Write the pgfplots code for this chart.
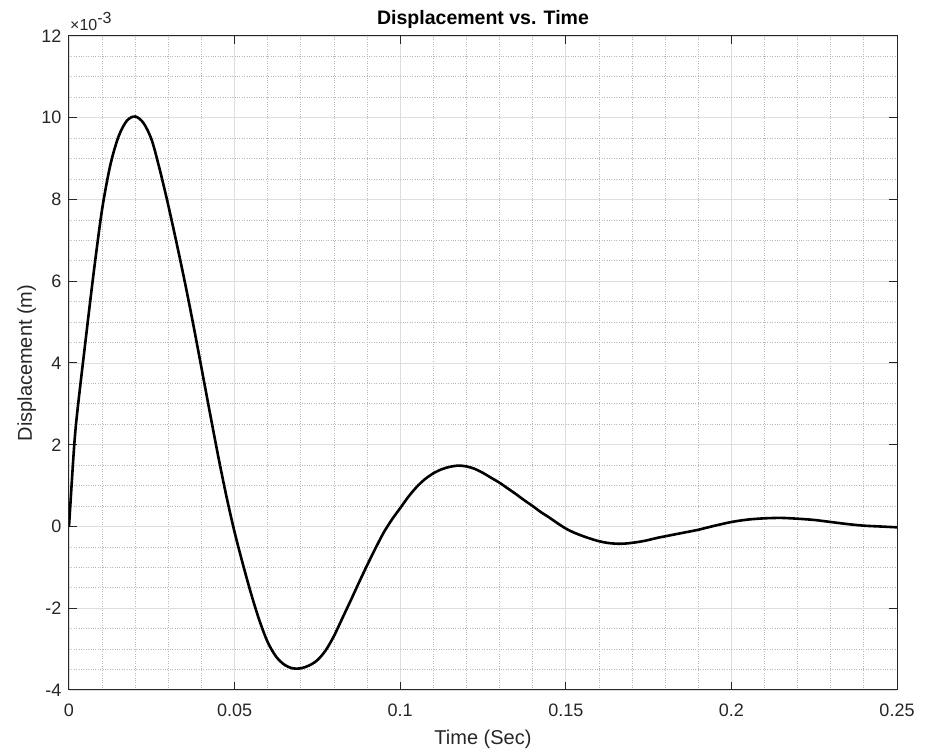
\documentclass[border=0pt]{standalone}
\usepackage{fontspec}
\setmainfont{Liberation Sans}
\usepackage{pgfplots}
\pgfplotsset{compat=1.18}
\definecolor{mtext}{gray}{0.15}
\definecolor{mgrid}{gray}{0.87}
\definecolor{mminor}{gray}{0.72}

\begin{document}
\begin{tikzpicture}[x=1pt,y=1pt]
\useasboundingbox (-69,-62) rectangle (865,690);
\begin{axis}[
    name=ax,
    scale only axis,
    width=828pt, height=654pt,
    xmin=0, xmax=0.25,
    ymin=-4, ymax=12,
    xtick={0,0.05,0.1,0.15,0.2,0.25},
    xticklabels={0,0.05,0.1,0.15,0.2,0.25},
    ytick={-4,-2,0,2,4,6,8,10,12},
    yticklabels={-4,-2,0,2,4,6,8,10,12},
    minor x tick num=4,
    minor y tick num=3,
    grid=both,
    major grid style={mgrid, line width=0.9pt},
    minor grid style={mminor, dotted, line width=0.8pt},
    tick align=inside,
    major tick length=8pt,
    minor tick length=0pt,
    axis line style={mtext, line width=1pt},
    tick style={mtext, line width=1pt},
    ticklabel style={font=\fontsize{18}{21}\selectfont, text=mtext},
    xticklabel style={anchor=base, yshift=-27pt},
    yticklabel style={anchor=east, xshift=-4pt},
]
% displacement in units of 1e-3 m
\addplot[black, line width=2.6pt, smooth] coordinates {
    (0,0) (0.0015,1.9) (0.0025,2.8) (0.005,4.55) (0.0075,6.24)
    (0.010,7.76) (0.0125,8.85) (0.015,9.55) (0.0175,9.93) (0.020,10.03)
    (0.0225,9.87) (0.025,9.45) (0.0275,8.70) (0.030,7.85) (0.0325,6.93)
    (0.035,5.97) (0.0375,4.95) (0.040,3.88) (0.0425,2.80) (0.045,1.74)
    (0.0475,0.75) (0.050,-0.14) (0.0525,-0.92) (0.055,-1.65) (0.0575,-2.3)
    (0.060,-2.83) (0.0625,-3.18) (0.065,-3.38) (0.0675,-3.47) (0.070,-3.47)
    (0.0725,-3.40) (0.075,-3.27) (0.0775,-3.03) (0.080,-2.68) (0.0825,-2.25)
    (0.085,-1.82) (0.0875,-1.38) (0.090,-0.95) (0.0925,-0.54) (0.095,-0.15)
    (0.0975,0.17) (0.100,0.45) (0.1025,0.73) (0.105,0.97) (0.1075,1.16)
    (0.110,1.30) (0.1125,1.40) (0.115,1.46) (0.1175,1.49) (0.120,1.47)
    (0.1225,1.41) (0.125,1.31) (0.1275,1.19) (0.130,1.07) (0.1325,0.93)
    (0.135,0.79) (0.1375,0.64) (0.140,0.50) (0.1425,0.35) (0.145,0.22)
    (0.1475,0.08) (0.150,-0.05) (0.1525,-0.15) (0.155,-0.23) (0.1575,-0.30)
    (0.160,-0.36) (0.1625,-0.40) (0.165,-0.42) (0.1675,-0.42) (0.170,-0.40)
    (0.1725,-0.37) (0.175,-0.33) (0.1775,-0.28) (0.180,-0.24) (0.185,-0.16)
    (0.190,-0.08) (0.195,0.02) (0.200,0.11) (0.205,0.17) (0.210,0.20)
    (0.215,0.21) (0.220,0.19) (0.225,0.16) (0.230,0.11) (0.235,0.06)
    (0.240,0.02) (0.245,0.00) (0.250,-0.02)
};
\end{axis}
\node[anchor=base west, font=\fontsize{16}{18}\selectfont, text=mtext, inner sep=0pt]
    at ([xshift=1pt, yshift=5pt]ax.north west) {×10\raisebox{7.5pt}{-3}};
\node[anchor=base, font=\bfseries\fontsize{19.5}{22}\selectfont, text=black, inner sep=0pt]
    at ([yshift=11pt]ax.north) {Displacement vs. Time};
\node[anchor=base, font=\fontsize{20}{22}\selectfont, text=mtext, inner sep=0pt]
    at ([yshift=-55pt]ax.south) {Time (Sec)};
\node[anchor=base, rotate=90, font=\fontsize{20}{22}\selectfont, text=mtext, inner sep=0pt]
    at ([xshift=-37pt]ax.west) {Displacement (m)};
\end{tikzpicture}
\end{document}
